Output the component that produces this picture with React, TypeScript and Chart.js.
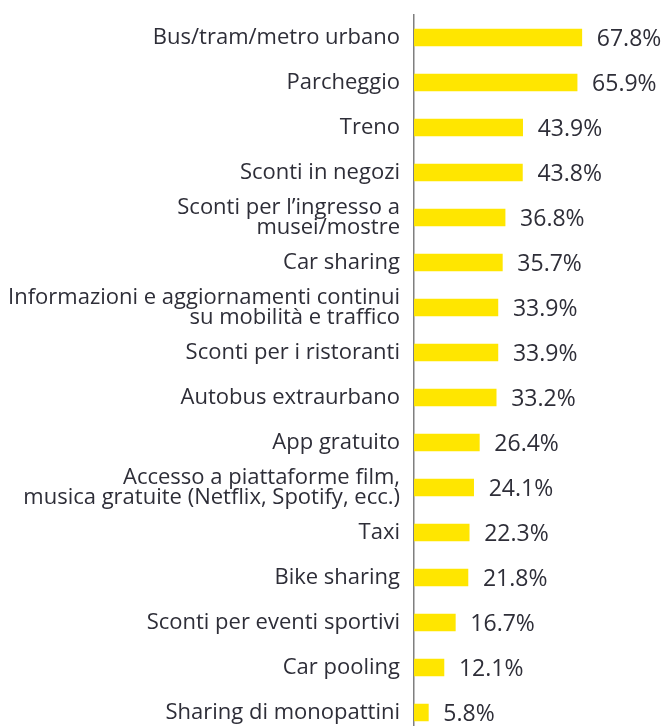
import React, { useEffect, useRef } from "react";
import { Chart, registerables } from "chart.js";

Chart.register(...registerables);

const categories: (string | string[])[] = [
  "Bus/tram/metro urbano",
  "Parcheggio",
  "Treno",
  "Sconti in negozi",
  ["Sconti per l’ingresso a", "musei/mostre"],
  "Car sharing",
  ["Informazioni e aggiornamenti continui", "su mobilità e traffico"],
  "Sconti per i ristoranti",
  "Autobus extraurbano",
  "App gratuito",
  ["Accesso a piattaforme film,", "musica gratuite (Netflix, Spotify, ecc.)"],
  "Taxi",
  "Bike sharing",
  "Sconti per eventi sportivi",
  "Car pooling",
  "Sharing di monopattini",
];

const values: number[] = [67.8, 65.9, 43.9, 43.8, 36.8, 35.7, 33.9, 33.9, 33.2, 26.4, 24.1, 22.3, 21.8, 16.7, 12.1, 5.8];

const BAR_COLOR = "#FFE600";
const TEXT_COLOR = "#2E2E38";
const FONT = "'Open Sans', Lato, sans-serif";

const valueLabels = {
  id: "valueLabels",
  afterDatasetsDraw(chart: any) {
    const ctx = chart.ctx;
    const meta = chart.getDatasetMeta(0);
    ctx.save();
    ctx.fillStyle = TEXT_COLOR;
    ctx.font = `23px ${FONT}`;
    ctx.textAlign = "left";
    ctx.textBaseline = "middle";
    meta.data.forEach((bar: any, i: number) => {
      ctx.fillText(`${values[i].toFixed(1)}%`, bar.x + 15, bar.y + 2);
    });
    ctx.restore();
  },
};

export default function App() {
  const ref = useRef<HTMLCanvasElement>(null);
  useEffect(() => {
    if (!ref.current) return;
    const chart = new Chart(ref.current, {
      type: "bar",
      data: {
        labels: categories,
        datasets: [
          {
            data: values,
            backgroundColor: BAR_COLOR,
            borderWidth: 0,
            barThickness: 17,
          },
        ],
      },
      options: {
        indexAxis: "y",
        animation: false,
        responsive: false,
        maintainAspectRatio: false,
        layout: { padding: { top: 15, right: 4.5, bottom: 5, left: 0 } },
        plugins: {
          legend: { display: false },
          tooltip: { enabled: false },
        },
        scales: {
          x: { display: false, min: 0, max: 100 },
          y: {
            grid: { display: false, drawTicks: false },
            border: { display: true, color: "#7F7F7F", width: 1.5 },
            ticks: {
              color: TEXT_COLOR,
              padding: 14,
              autoSkip: false,
              font: { family: FONT, size: 22, lineHeight: 0.91 },
            },
            afterFit: (s: any) => {
              s.width = 414;
              s.paddingTop = 0;
              s.paddingBottom = 0;
            },
          },
        },
      },
      plugins: [valueLabels],
    });
    return () => chart.destroy();
  }, []);
  return (
    <div style={{ position: "absolute", top: 0, left: 0, width: 666, height: 726, overflow: "hidden", background: "#fff" }}>
      <canvas ref={ref} width={666} height={740} style={{ display: "block", width: 666, height: 740 }} />
    </div>
  );
}
